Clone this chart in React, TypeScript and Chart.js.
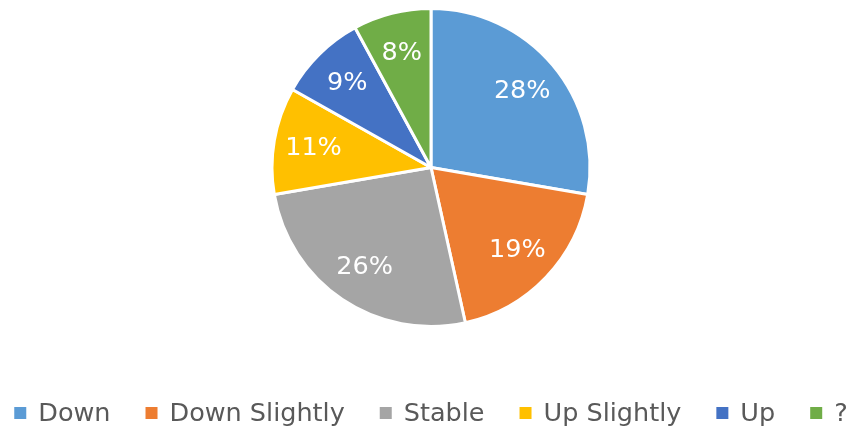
import React, { useEffect, useRef } from "react";
import { Chart, registerables } from "chart.js";

Chart.register(...registerables);

const categories = ["Down", "Down Slightly", "Stable", "Up Slightly", "Up", "?"];
const shares = [28, 19, 26, 11, 9, 8];
const colors = ["#5B9BD5", "#ED7D31", "#A5A5A5", "#FFC000", "#4472C4", "#70AD47"];

const FONT = "'DejaVu Sans', sans-serif";

const labelPlugin = {
  id: "sliceLabels",
  afterDatasetsDraw(chart: any) {
    const { ctx } = chart;
    const meta = chart.getDatasetMeta(0);
    const data = chart.data.datasets[0].data as number[];
    ctx.save();
    ctx.fillStyle = "#ffffff";
    ctx.font = `25.5px ${FONT}`;
    ctx.textAlign = "center";
    ctx.textBaseline = "middle";
    meta.data.forEach((arc: any, i: number) => {
      const p = arc.getProps(["x", "y", "startAngle", "endAngle", "outerRadius"], true);
      const mid = (p.startAngle + p.endAngle) / 2;
      const r = p.outerRadius * 0.75;
      ctx.fillText(`${data[i]}%`, p.x + Math.cos(mid) * r, p.y + Math.sin(mid) * r + 1);
    });
    ctx.restore();
  },
};

const legendPlugin = {
  id: "bottomLegend",
  afterDraw(chart: any) {
    const { ctx, width } = chart;
    const labels = chart.data.labels as string[];
    const bg = chart.data.datasets[0].backgroundColor as string[];
    const box = 12;
    const boxGap = 12;
    const itemGap = 35;
    const y = 413;
    ctx.save();
    ctx.font = `25.5px ${FONT}`;
    const widths = labels.map((l) => box + boxGap + ctx.measureText(l).width);
    const total = widths.reduce((a, b) => a + b, 0) + itemGap * (labels.length - 1);
    let x = (width - total) / 2;
    ctx.textBaseline = "middle";
    ctx.textAlign = "left";
    labels.forEach((l, i) => {
      ctx.fillStyle = bg[i];
      ctx.fillRect(x, y - box / 2, box, box);
      ctx.fillStyle = "#595959";
      ctx.fillText(l, x + box + boxGap, y + 1);
      x += widths[i] + itemGap;
    });
    ctx.restore();
  },
};

export default function App() {
  const ref = useRef<HTMLCanvasElement | null>(null);
  useEffect(() => {
    if (!ref.current) return;
    const chart = new Chart(ref.current, {
      type: "pie",
      data: {
        labels: categories,
        datasets: [
          {
            data: shares,
            backgroundColor: colors,
            borderColor: "#ffffff",
            borderWidth: 3,
          },
        ],
      },
      options: {
        animation: false,
        responsive: false,
        maintainAspectRatio: false,
        layout: { padding: { top: 7, bottom: 103, left: 0, right: 0 } },
        plugins: {
          legend: { display: false },
          tooltip: { enabled: false },
        },
      },
      plugins: [labelPlugin, legendPlugin],
    });
    return () => chart.destroy();
  }, []);
  return (
    <div style={{ position: "fixed", left: 0, top: 0, width: 862, height: 431, background: "#ffffff" }}>
      <canvas ref={ref} width={862} height={431} style={{ width: 862, height: 431 }} />
    </div>
  );
}
